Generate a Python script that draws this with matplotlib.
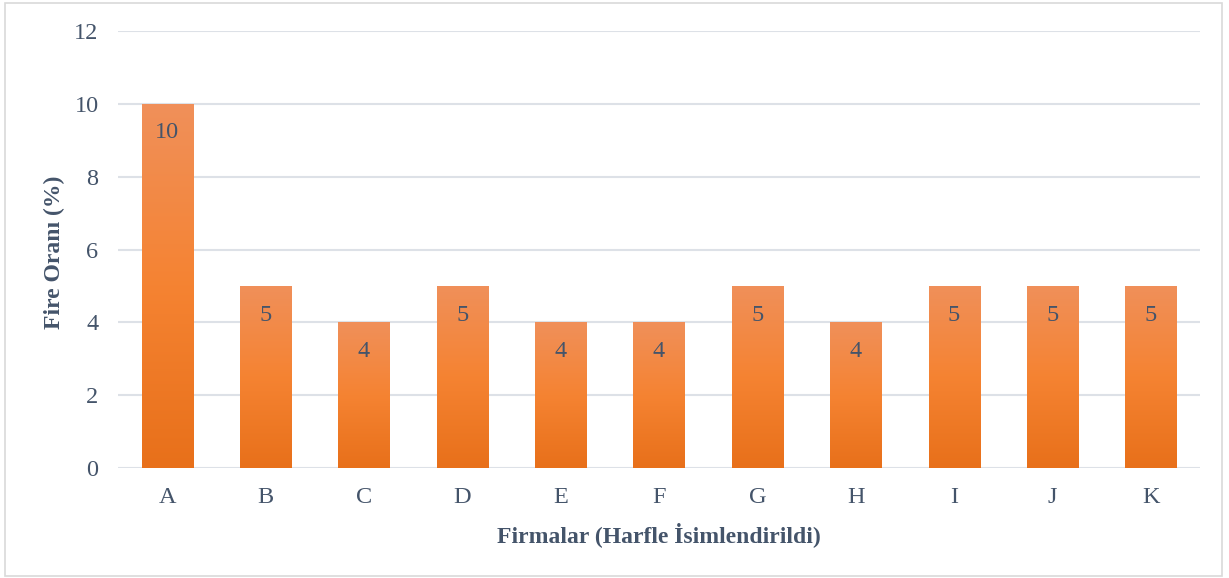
import numpy as np
import matplotlib.pyplot as plt
from matplotlib.colors import LinearSegmentedColormap
from matplotlib.patches import Rectangle

# dane
firmy = ['A', 'B', 'C', 'D', 'E', 'F', 'G', 'H', 'I', 'J', 'K']
fire = [10, 5, 4, 5, 4, 4, 5, 4, 5, 5, 5]
y_ticks = [0, 2, 4, 6, 8, 10, 12]

plt.rcParams['font.family'] = ['Liberation Serif', 'DejaVu Serif']
kolor_tekstu = '#44546A'

fig = plt.figure(figsize=(12.29, 5.78), dpi=100)
ax = fig.add_axes([118 / 1229, 1 - 468 / 578, 1082 / 1229, 437 / 578])

# ramka wokol wykresu
fig.patches.append(Rectangle((5 / 1229, 2 / 578), 1217 / 1229, 573 / 578,
                             transform=fig.transFigure, fill=False,
                             edgecolor='#D9D9D9', linewidth=1.2))

gradient = LinearSegmentedColormap.from_list('pom', ['#E8701A', '#F58332', '#F0905A'])
grad = np.linspace(0, 1, 256).reshape(-1, 1)

x = np.arange(len(firmy))
slupki = ax.bar(x, fire, width=0.52, color='none', zorder=2)
for s in slupki:
    x0, y0 = s.get_x(), s.get_y()
    w, h = s.get_width(), s.get_height()
    im = ax.imshow(grad, cmap=gradient, aspect='auto', origin='lower',
                   extent=[x0, x0 + w, y0, y0 + h], zorder=2)
    im.set_clip_path(s)

for xi, v in zip(x, fire):
    ax.text(xi, v - 0.8, str(v), ha='center', va='center',
            fontsize=17.5, color=kolor_tekstu, zorder=3)

ax.set_xlim(-0.5, len(firmy) - 0.5)
ax.set_ylim(0, 12)
ax.set_yticks(y_ticks)
ax.set_xticks(x)
ax.set_xticklabels(firmy)
ax.tick_params(axis='both', length=0, labelsize=17.5, colors=kolor_tekstu)
ax.tick_params(axis='y', pad=14)
ax.tick_params(axis='x', pad=14)
ax.grid(axis='y', color='#DDE1E7', linewidth=1.5, zorder=0)
ax.set_axisbelow(True)
for sp in ax.spines.values():
    sp.set_visible(False)

fig.text(54 / 1229, 1 - 252 / 578, 'Fire Oranı (%)', rotation=90,
         ha='center', va='center', fontsize=17, fontweight='bold',
         color=kolor_tekstu)
ax.set_xlabel('Firmalar (Harfle İsimlendirildi)', fontsize=17,
              fontweight='bold', color=kolor_tekstu, labelpad=10)

fig.savefig('out.png', dpi=100)
